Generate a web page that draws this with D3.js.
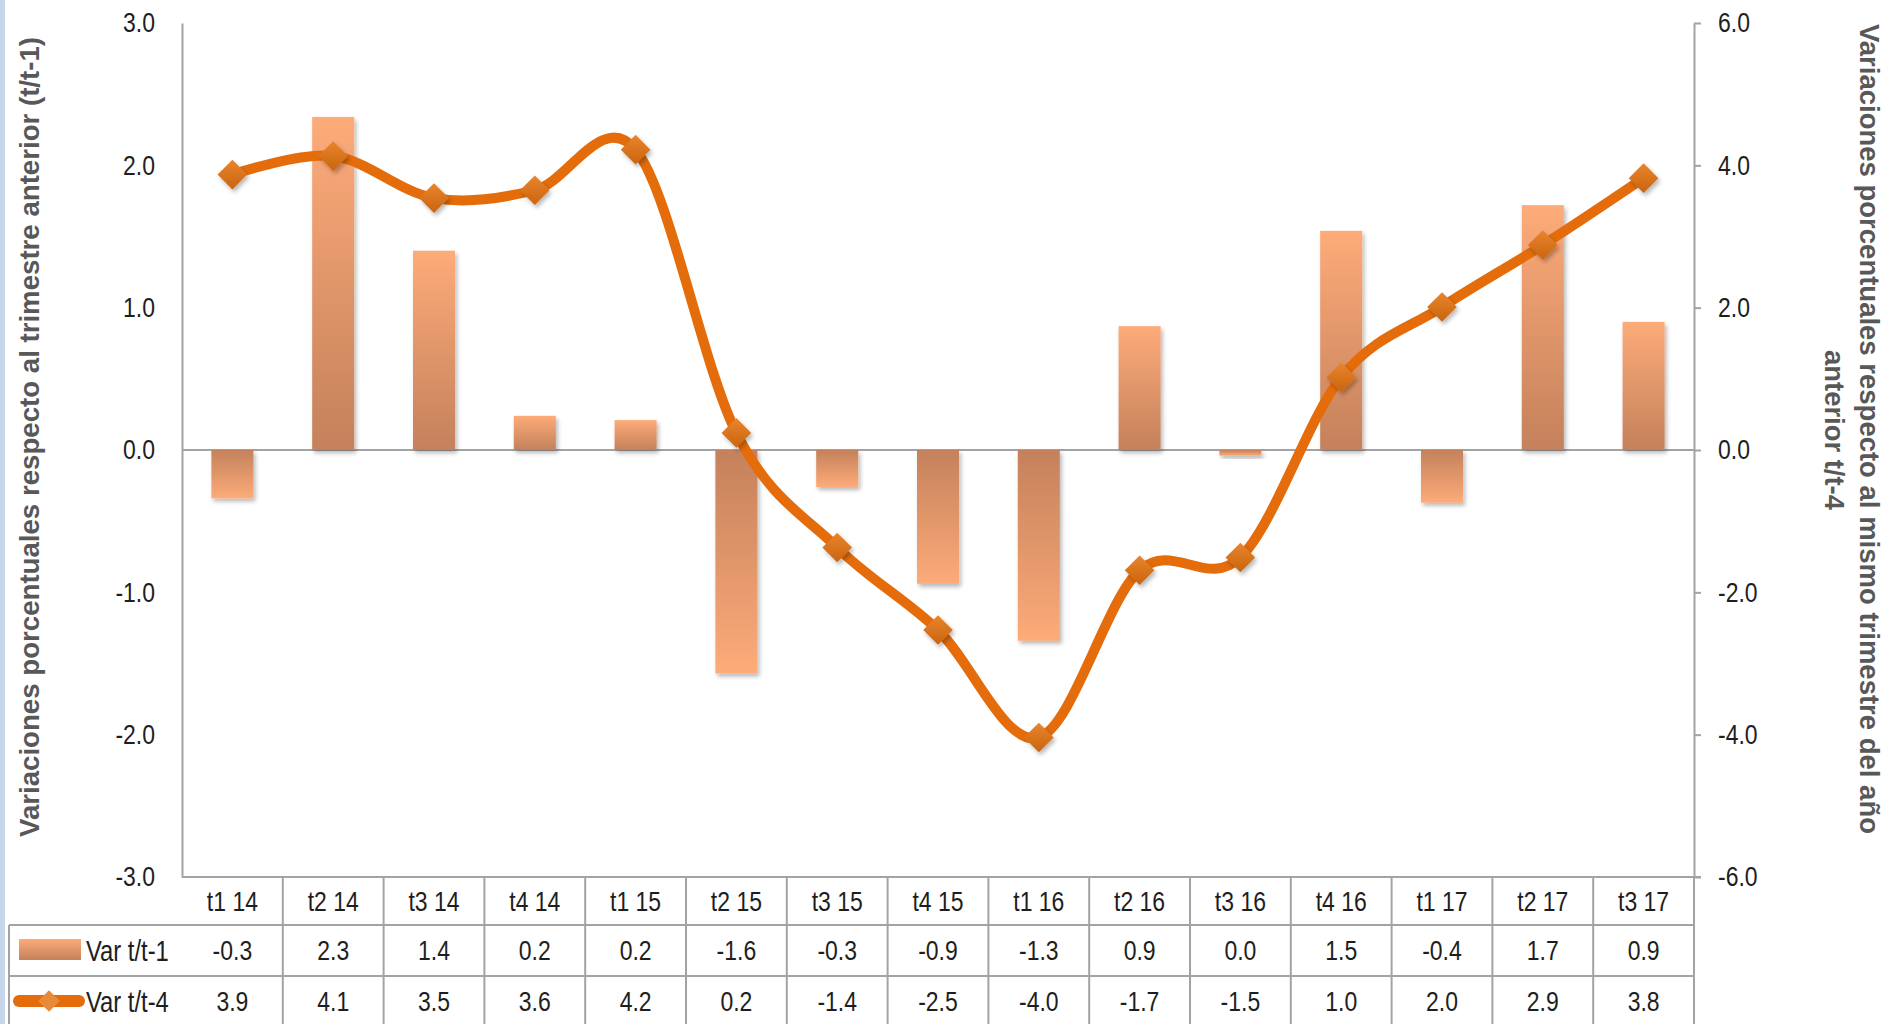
<!DOCTYPE html>
<html><head><meta charset="utf-8">
<script src="https://cdn.jsdelivr.net/npm/d3@7"></script>
<style>body{margin:0;background:#fff;overflow:hidden}svg{display:block}</style>
</head><body>
<script>
// ---------- DATA ----------
const categories = ["t1 14","t2 14","t3 14","t4 14","t1 15","t2 15","t3 15","t4 15","t1 16","t2 16","t3 16","t4 16","t1 17","t2 17","t3 17"];
const varT1 = [-0.34, 2.34, 1.40, 0.24, 0.21, -1.57, -0.26, -0.94, -1.34, 0.87, -0.04, 1.54, -0.37, 1.72, 0.90];
const varT4 = [3.87, 4.13, 3.54, 3.65, 4.22, 0.24, -1.37, -2.53, -4.04, -1.69, -1.51, 1.02, 2.01, 2.88, 3.82];
const seriesNames = ["Var t/t-1", "Var t/t-4"];
const leftTicks = [-3, -2, -1, 0, 1, 2, 3];
const rightTicks = [-6, -4, -2, 0, 2, 4, 6];
const leftTitle = "Variaciones porcentuales respecto al trimestre anterior (t/t-1)";
const rightTitle = ["Variaciones porcentuales respecto al mismo trimestre del año", "anterior t/t-4"];

// ---------- LAYOUT ----------
const W = 1887, H = 1024;
const plotL = 182, plotR = 1694, plotT = 23, plotB = 877;
const rowTops = [877, 925, 976, 1027];
const tableL = 9;
const FONT = "'Liberation Sans Narrow','Arial Narrow','Liberation Sans',Arial,sans-serif";
const GRID = "#a3a3a3";
const TXT = "#1e1e1e";

const svg = d3.select("body").append("svg").attr("width", W).attr("height", H)
  .style("font-family", FONT);

const defs = svg.append("defs");
function barGrad(id, x1, y1, x2, y2) {
  const g = defs.append("linearGradient").attr("id", id)
    .attr("x1", x1).attr("y1", y1).attr("x2", x2).attr("y2", y2);
  g.append("stop").attr("offset", "0%").attr("stop-color", "#fdab79");
  g.append("stop").attr("offset", "100%").attr("stop-color", "#c4815b");
}
barGrad("gPos", 0, 0, 0, 1);   // light at top, dark at base
barGrad("gNeg", 0, 1, 0, 0);   // light at bottom, dark at base
const mg = defs.append("linearGradient").attr("id", "gMark").attr("x1", 0).attr("y1", 0).attr("x2", 0).attr("y2", 1);
mg.append("stop").attr("offset", "0%").attr("stop-color", "#e9852d");
mg.append("stop").attr("offset", "100%").attr("stop-color", "#c9640f");
const sh = defs.append("filter").attr("id", "shadow").attr("x", "-50%").attr("y", "-50%").attr("width", "200%").attr("height", "200%");
sh.append("feDropShadow").attr("dx", 2).attr("dy", 3).attr("stdDeviation", 2.2)
  .attr("flood-color", "#000").attr("flood-opacity", 0.28);

// left light-blue strip
svg.append("rect").attr("x", 0).attr("y", 0).attr("width", 5).attr("height", H).attr("fill", "#c7d6eb");

// ---------- SCALES ----------
const xCol = d3.scaleBand().domain(categories).range([plotL, plotR]).padding(0);
const xBar = d3.scaleBand().domain(categories).range([plotL, plotR]).paddingInner(0.583).paddingOuter(0.2915);
const yL = d3.scaleLinear().domain([-3, 3]).range([plotB, plotT]);
const yR = d3.scaleLinear().domain([-6, 6]).range([plotB, plotT]);
const fmt = v => { const s = v.toFixed(1); return s === "-0.0" ? "0.0" : s; };

// ---------- AXES ----------
const axL = svg.append("g").attr("transform", `translate(${plotL},0)`)
  .call(d3.axisLeft(yL).tickValues(leftTicks).tickSize(0).tickPadding(27).tickFormat(d => d.toFixed(1)));
const axR = svg.append("g").attr("transform", `translate(${plotR},0)`)
  .call(d3.axisRight(yR).tickValues(rightTicks).tickSize(7).tickSizeOuter(0).tickPadding(17).tickFormat(d => d.toFixed(1)));
[axL, axR].forEach(a => {
  a.select(".domain").attr("stroke", GRID).attr("stroke-width", 2);
  a.selectAll(".tick line").attr("stroke", GRID).attr("stroke-width", 2);
  a.selectAll(".tick text").attr("fill", TXT).style("font-family", FONT).style("font-size", "28px");
});

// zero line
svg.append("line").attr("x1", plotL).attr("x2", plotR).attr("y1", yL(0)).attr("y2", yL(0))
  .attr("stroke", GRID).attr("stroke-width", 2);

// ---------- BARS ----------
svg.append("g").selectAll("rect").data(categories).join("rect")
  .attr("x", c => xBar(c))
  .attr("width", xBar.bandwidth())
  .attr("y", (c, i) => Math.min(yL(varT1[i]), yL(0)))
  .attr("height", (c, i) => Math.abs(yL(varT1[i]) - yL(0)))
  .attr("fill", (c, i) => varT1[i] >= 0 ? "url(#gPos)" : "url(#gNeg)")
  .attr("filter", "url(#shadow)");

// ---------- LINE ----------
const cx = c => xCol(c) + xCol.bandwidth() / 2;
const line = d3.line().x((d, i) => cx(categories[i])).y(d => yR(d)).curve(d3.curveCatmullRom.alpha(0));
svg.append("path").datum(varT4).attr("d", line).attr("fill", "none")
  .attr("stroke", "#e46c0a").attr("stroke-width", 10).attr("stroke-linecap", "round").attr("stroke-linejoin", "round");
const diamond = d3.symbol().type(d3.symbolDiamond2).size(560);
svg.append("g").selectAll("path").data(varT4).join("path")
  .attr("d", diamond)
  .attr("transform", (d, i) => `translate(${cx(categories[i])},${yR(d)})`)
  .attr("fill", "url(#gMark)").attr("filter", "url(#shadow)");

// ---------- DATA TABLE ----------
const tbl = svg.append("g").attr("stroke", GRID).attr("stroke-width", 2);
// header row top (x axis) extends to the -6.0 tick
tbl.append("line").attr("x1", plotL).attr("x2", plotR + 7).attr("y1", rowTops[0]).attr("y2", rowTops[0]);
tbl.append("line").attr("x1", tableL).attr("x2", plotR).attr("y1", rowTops[1]).attr("y2", rowTops[1]);
tbl.append("line").attr("x1", tableL).attr("x2", plotR).attr("y1", rowTops[2]).attr("y2", rowTops[2]);
tbl.append("line").attr("x1", tableL).attr("x2", plotR).attr("y1", rowTops[3]).attr("y2", rowTops[3]);
tbl.append("line").attr("x1", tableL).attr("x2", tableL).attr("y1", rowTops[1]).attr("y2", H + 5);
tbl.selectAll(".vl").data(categories.slice(1)).join("line").attr("class", "vl")
  .attr("x1", c => xCol(c)).attr("x2", c => xCol(c)).attr("y1", rowTops[0]).attr("y2", H + 5);
tbl.append("line").attr("x1", plotR).attr("x2", plotR).attr("y1", rowTops[0]).attr("y2", H + 5);

const rowMid = i => (rowTops[i] + rowTops[i + 1]) / 2;
const tt = svg.append("g").attr("fill", TXT).style("font-size", "28px").attr("text-anchor", "middle");
tt.selectAll(".cat").data(categories).join("text").attr("class", "cat cond")
  .attr("x", cx).attr("y", rowMid(0)).attr("dy", "0.35em").text(d => d);
tt.selectAll(".v1").data(varT1).join("text").attr("class", "v1 cond")
  .attr("x", (d, i) => cx(categories[i])).attr("y", rowMid(1)).attr("dy", "0.35em").text(fmt);
tt.selectAll(".v4").data(varT4).join("text").attr("class", "v4 cond")
  .attr("x", (d, i) => cx(categories[i])).attr("y", rowMid(2)).attr("dy", "0.35em").text(fmt);

// legend keys in the table
svg.append("rect").attr("x", 19).attr("y", 939).attr("width", 62).attr("height", 21).attr("fill", "url(#gPos)");
svg.append("line").attr("x1", 19).attr("x2", 79).attr("y1", 1001).attr("y2", 1001)
  .attr("stroke", "#e46c0a").attr("stroke-width", 12).attr("stroke-linecap", "round");
svg.append("path").attr("d", d3.symbol().type(d3.symbolDiamond2).size(300))
  .attr("transform", "translate(49,1001)").attr("fill", "#e98a3a");
svg.append("g").attr("fill", TXT).style("font-size", "29px").selectAll("text").data(seriesNames).join("text")
  .attr("class", "cond").attr("x", 86).attr("y", (d, i) => rowMid(i + 1)).attr("dy", "0.35em").text(d => d);

// ---------- TITLES ----------
svg.append("text").attr("transform", "translate(29,437) rotate(-90)")
  .attr("text-anchor", "middle").attr("dy", "0.35em").attr("fill", "#585858")
  .style("font-size", "28px").style("font-weight", "bold")
  .attr("textLength", 800).attr("lengthAdjust", "spacingAndGlyphs").text(leftTitle);
svg.append("text").attr("transform", "translate(1870,429) rotate(90)")
  .attr("text-anchor", "middle").attr("dy", "0.35em").attr("fill", "#585858")
  .style("font-size", "28px").style("font-weight", "bold")
  .attr("textLength", 810).attr("lengthAdjust", "spacingAndGlyphs").text(rightTitle[0]);
svg.append("text").attr("transform", "translate(1835,430) rotate(90)")
  .attr("text-anchor", "middle").attr("dy", "0.35em").attr("fill", "#585858")
  .style("font-size", "28px").style("font-weight", "bold")
  .attr("textLength", 160).attr("lengthAdjust", "spacingAndGlyphs").text(rightTitle[1]);

// ---------- narrow-font emulation if no condensed face installed ----------
(function () {
  const t1 = svg.append("text").style("font-family", "'Liberation Sans Narrow'").style("font-size", "28px").text("Var t/t-1 0.0");
  const t2 = svg.append("text").style("font-family", "'Liberation Sans'").style("font-size", "28px").text("Var t/t-1 0.0");
  const narrow = t1.node().getComputedTextLength() < 0.9 * t2.node().getComputedTextLength();
  t1.remove(); t2.remove();
  if (!narrow) {
    svg.selectAll(".cond, .tick text").each(function () {
      const L = this.getComputedTextLength();
      d3.select(this).attr("textLength", L * 0.82).attr("lengthAdjust", "spacingAndGlyphs");
    });
  }
})();
</script>
</body></html>
